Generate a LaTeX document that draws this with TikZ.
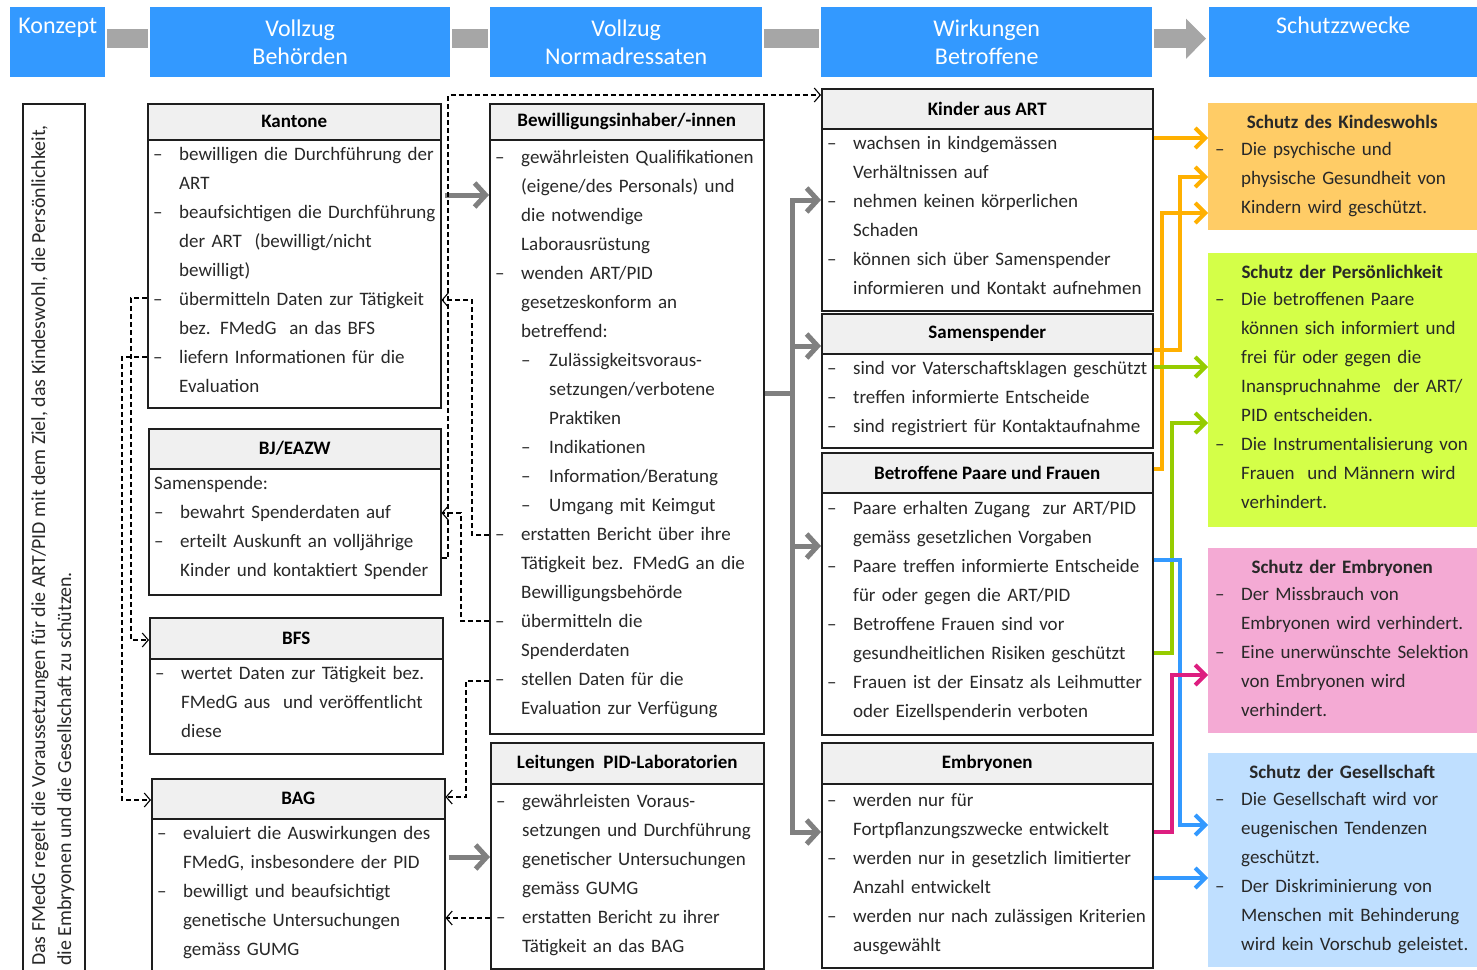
\documentclass[tikz,border=0pt]{standalone}
\usepackage{fontspec}
\setmainfont{Carlito}
\usetikzlibrary{positioning,arrows.meta}

\definecolor{stageblue}{RGB}{51,153,255}
\definecolor{bargray}{RGB}{166,166,166}
\definecolor{flowgray}{RGB}{128,128,128}
\definecolor{headgray}{RGB}{240,240,240}
\definecolor{boxline}{RGB}{30,30,30}
\definecolor{textgray}{RGB}{40,40,40}
\definecolor{kwfill}{RGB}{255,204,102}
\definecolor{kwline}{RGB}{255,176,0}
\definecolor{pkfill}{RGB}{212,255,72}
\definecolor{pkline}{RGB}{150,204,0}
\definecolor{emfill}{RGB}{244,170,212}
\definecolor{emline}{RGB}{221,30,128}
\definecolor{gsfill}{RGB}{191,223,255}
\definecolor{gsline}{RGB}{51,153,255}

\newif\ifboxstart
\newcommand{\bodyfont}{\fontsize{19}{29}\selectfont}
\newcommand{\newpar}{\ifboxstart\boxstartfalse\else\par\fi\noindent\rule{0pt}{14pt}}
\newcommand{\itm}{\newpar\hangindent=26pt\hangafter=1\makebox[26pt][l]{–}}
\newcommand{\sitm}{\newpar\hangindent=54pt\hangafter=1\hspace*{26pt}\makebox[28pt][l]{–}}
\newcommand{\txtline}{\newpar}
\newcommand{\goaltitle}[1]{\newpar\makebox[254pt]{\bfseries #1}\par\vspace{-2pt}}

\tikzset{
  stage/.style    = {anchor=north west, fill=stageblue, text=white, align=center,
                     inner sep=0pt, minimum height=70pt, font=\fontsize{24}{28}\selectfont},
  bar/.style      = {draw=bargray, line width=19pt, shorten <=2pt, shorten >=2pt},
  titlebox/.style = {anchor=north west, draw=boxline, line width=1.5pt, fill=headgray,
                     inner sep=0pt, font=\bfseries\fontsize{19}{23}\selectfont},
  bodybox/.style  = {draw=boxline, line width=1.5pt, fill=white, inner sep=0pt},
  bodytext/.style = {anchor=north west, align=left, inner xsep=6pt, inner ysep=7pt,
                     font=\bodyfont, text=textgray, execute at begin node=\boxstarttrue},
  goalbox/.style  = {anchor=north west, inner sep=0pt, minimum width=269pt},
  goaltext/.style = {bodytext, inner xsep=7pt, inner ysep=11pt, text width=300pt},
  flow/.style     = {draw=flowgray, line width=5pt, -{Straight Barb[length=11pt,width=24pt]}},
  goallink/.style = {line width=4pt, -{Straight Barb[length=10pt,width=20pt]}},
  datalink/.style = {draw=black, line width=1.1pt, dash pattern=on 5pt off 3pt,
                     -{Straight Barb[length=6pt,width=14pt]}}
}

\begin{document}
\begin{tikzpicture}[x=1pt, y=-1pt]
\useasboundingbox (0,0) rectangle (1477,969);
\clip (0,0) rectangle (1477,969);

% Kopfzeile
\node[stage, minimum width=95pt]  (konz)  at (10,7)   {\strut Konzept\\\strut};
\node[stage, minimum width=300pt] (vbeh)  at (150,7)  {Vollzug\\Behörden};
\node[stage, minimum width=272pt] (vnorm) at (490,7)  {Vollzug\\Normadressaten};
\node[stage, minimum width=331pt] (wirk)  at (821,7)  {Wirkungen\\Betroffene};
\node[stage, minimum width=268pt] (zweck) at (1209,7) {\strut Schutzzwecke\\\strut};
\draw[bar] ([yshift=3.5pt]konz.east) -- ([yshift=3.5pt]vbeh.west);
\draw[bar] ([yshift=3.5pt]vbeh.east) -- ([yshift=3.5pt]vnorm.west);
\draw[bar] ([yshift=3.5pt]vnorm.east) -- ([yshift=3.5pt]wirk.west);
\draw[bar, shorten >=3pt, -{Triangle[length=20pt,width=39pt]}]
  ([yshift=3.5pt]wirk.east) -- ([yshift=3.5pt]zweck.west);

% Konzept
\node[bodybox, anchor=north west, minimum width=62pt, minimum height=900pt] (konzB) at (22,103) {};
\node[rotate=90, anchor=north west, align=left, inner sep=0pt, text=textgray,
      font=\fontsize{19.9}{26}\selectfont] (konzT) at (31,966)
  {Das FMedG regelt die Voraussetzungen für die ART/PID mit dem Ziel, das Kindeswohl, die Persönlichkeit,\\
   die Embryonen und die Gesellschaft zu schützen.};

% Vollzug Behoerden
\node[titlebox, minimum width=293pt, minimum height=36pt] (kant) at (147,103) {Kantone};
\node[bodybox, minimum width=293pt, minimum height=268pt, below=-1.5pt of kant] (kantB) {};
\node[bodytext, text width=320pt] (kantT) at (kantB.north west)
  {\itm bewilligen die Durchführung der\newline ART
   \itm beaufsichtigen die Durchführung\newline der ART~ (bewilligt/nicht\newline bewilligt)
   \itm übermitteln Daten zur Tätigkeit\newline bez. FMedG~ an das BFS
   \itm liefern Informationen für die\newline Evaluation\par};

\node[titlebox, minimum width=292pt, minimum height=40pt] (bj) at (148,428) {BJ/EAZW};
\node[bodybox, minimum width=292pt, minimum height=126pt, below=-1.5pt of bj] (bjB) {};
\node[bodytext, text width=320pt] (bjT) at (bjB.north west)
  {\txtline Samenspende:
   \itm bewahrt Spenderdaten auf
   \itm erteilt Auskunft an volljährige\newline Kinder und kontaktiert Spender\par};

\node[titlebox, minimum width=293pt, minimum height=41pt] (bfs) at (149,617) {BFS};
\node[bodybox, minimum width=293pt, minimum height=95pt, below=-1.5pt of bfs] (bfsB) {};
\node[bodytext, text width=320pt] (bfsT) at (bfsB.north west)
  {\itm wertet Daten zur Tätigkeit bez.\newline FMedG aus~ und veröffentlicht\newline diese\par};

\node[titlebox, minimum width=293pt, minimum height=40pt] (bag) at (151,778) {BAG};
\node[bodybox, minimum width=293pt, minimum height=200pt, below=-1.5pt of bag] (bagB) {};
\node[bodytext, text width=320pt] (bagT) at (bagB.north west)
  {\itm evaluiert die Auswirkungen des\newline FMedG, insbesondere der PID
   \itm bewilligt und beaufsichtigt\newline genetische Untersuchungen\newline gemäss GUMG\par};

% Vollzug Normadressaten
\node[titlebox, minimum width=274pt, minimum height=36pt] (bew) at (489,103) {Bewilligungsinhaber/-innen};
\node[bodybox, minimum width=274pt, minimum height=594pt, below=-1.5pt of bew] (bewB) {};
\node[bodytext, text width=300pt, yshift=-3pt] (bewT) at (bewB.north west)
  {\itm gewährleisten Qualifikationen\newline (eigene/des Personals) und\newline die notwendige\newline Laborausrüstung
   \itm wenden ART/PID\newline gesetzeskonform an\newline betreffend:
   \sitm Zulässigkeitsvoraus-\newline setzungen/verbotene\newline Praktiken
   \sitm Indikationen
   \sitm Information/Beratung
   \sitm Umgang mit Keimgut
   \itm erstatten Bericht über ihre\newline Tätigkeit bez. FMedG an die\newline Bewilligungsbehörde
   \itm übermitteln die\newline Spenderdaten
   \itm stellen Daten für die\newline Evaluation zur Verfügung\par};

\node[titlebox, minimum width=273pt, minimum height=41pt] (lei) at (490,742) {Leitungen~ PID-Laboratorien};
\node[bodybox, minimum width=273pt, minimum height=185pt, below=-1.5pt of lei] (leiB) {};
\node[bodytext, text width=300pt, yshift=-3pt] (leiT) at (leiB.north west)
  {\itm gewährleisten Voraus-\newline setzungen und Durchführung\newline genetischer Untersuchungen\newline gemäss GUMG
   \itm erstatten Bericht zu ihrer\newline Tätigkeit an das BAG\par};

% Wirkungen Betroffene
\node[titlebox, minimum width=331pt, minimum height=40pt] (kin) at (821,88) {Kinder aus ART};
\node[bodybox, minimum width=331pt, minimum height=182pt, below=-1.5pt of kin] (kinB) {};
\node[bodytext, text width=360pt] (kinT) at (kinB.north west)
  {\itm wachsen in kindgemässen\newline Verhältnissen auf
   \itm nehmen keinen körperlichen\newline Schaden
   \itm können sich über Samenspender\newline informieren und Kontakt aufnehmen\par};

\node[titlebox, minimum width=331pt, minimum height=40pt] (samH) at (821,313) {Samenspender};
\node[bodybox, minimum width=331pt, minimum height=94pt, below=-1.5pt of samH] (samB) {};
\node[bodytext, text width=360pt] (samT) at (samB.north west)
  {\itm sind vor Vaterschaftsklagen geschützt
   \itm treffen informierte Entscheide
   \itm sind registriert für Kontaktaufnahme\par};

\node[titlebox, minimum width=331pt, minimum height=40pt] (betH) at (821,452) {Betroffene Paare und Frauen};
\node[bodybox, minimum width=331pt, minimum height=242pt, below=-1.5pt of betH] (betB) {};
\node[bodytext, text width=360pt, yshift=-1pt] (betT) at (betB.north west)
  {\itm Paare erhalten Zugang~ zur ART/PID\newline gemäss gesetzlichen Vorgaben
   \itm Paare treffen informierte Entscheide\newline für oder gegen die ART/PID
   \itm Betroffene Frauen sind vor\newline gesundheitlichen Risiken geschützt
   \itm Frauen ist der Einsatz als Leihmutter\newline oder Eizellspenderin verboten\par};

\node[titlebox, minimum width=331pt, minimum height=41pt] (emb) at (821,742) {Embryonen};
\node[bodybox, minimum width=331pt, minimum height=184pt, below=-1.5pt of emb] (embB) {};
\node[bodytext, text width=360pt, yshift=-2pt] (embT) at (embB.north west)
  {\itm werden nur für\newline Fortpflanzungszwecke entwickelt
   \itm werden nur in gesetzlich limitierter\newline Anzahl entwickelt
   \itm werden nur nach zulässigen Kriterien\newline ausgewählt\par};

% Schutzzwecke
\node[goalbox, fill=kwfill, minimum height=127pt] (kwohl) at (1208,103) {};
\node[goaltext] (kwohlT) at (kwohl.north west)
  {\goaltitle{Schutz des Kindeswohls}
   \itm Die psychische und\newline physische Gesundheit von\newline Kindern wird geschützt.\par};

\node[goalbox, fill=pkfill, minimum height=274pt] (pers) at (1208,253) {};
\node[goaltext] (persT) at (pers.north west)
  {\goaltitle{Schutz der Persönlichkeit}
   \itm Die betroffenen Paare\newline können sich informiert und\newline frei für oder gegen die\newline Inanspruchnahme~ der ART/\newline PID entscheiden.
   \itm Die Instrumentalisierung von\newline Frauen~ und Männern wird\newline verhindert.\par};

\node[goalbox, fill=emfill, minimum height=185pt] (embz) at (1208,548) {};
\node[goaltext] (embzT) at (embz.north west)
  {\goaltitle{Schutz der Embryonen}
   \itm Der Missbrauch von\newline Embryonen wird verhindert.
   \itm Eine unerwünschte Selektion\newline von Embryonen wird\newline verhindert.\par};

\node[goalbox, fill=gsfill, minimum height=214pt] (ges) at (1208,753) {};
\node[goaltext] (gesT) at (ges.north west)
  {\goaltitle{Schutz der Gesellschaft}
   \itm Die Gesellschaft wird vor\newline eugenischen Tendenzen\newline geschützt.
   \itm Der Diskriminierung von\newline Menschen mit Behinderung\newline wird kein Vorschub geleistet.\par};

% Vollzugsfluss
\coordinate (hub) at (792,393);
\draw[flow, shorten <=3pt] (kantB.east |- 0,195) -- (bewB.west |- 0,195);
\draw[flow, shorten <=3pt] (bagB.east |- 0,857) -- (leiB.west |- 0,857);
\draw[flow, -] (bewB.east |- hub) -- (hub);
\draw[flow] (hub) -- (792,200) -- (kinB.west |- 0,200);
\draw[flow] (hub) -- (792,832) -- (embB.west |- 0,832);
\draw[flow] (792,346) -- (samH.west |- 0,346);
\draw[flow] (792,546) -- (betB.west |- 0,546);

% Daten und Berichte
\draw[datalink] (kantB.west |- 0,298) -- (131,298) -- (131,640) -- (bfs.west |- 0,640);
\draw[datalink] (kantB.west |- 0,357) -- (122,357) -- (122,800) -- (bag.west |- 0,800);
\draw[datalink] (bjB.east |- 0,558) -- (448,558) -- (448,95) -- (kin.west |- 0,95);
\draw[datalink] (bewB.west |- 0,535) -- (472,535) -- (472,300) -- (kantB.east |- 0,300);
\draw[datalink] (bewB.west |- 0,621) -- (461,621) -- (461,513) -- (bjB.east |- 0,513);
\draw[datalink] (bewB.west |- 0,681) -- (466,681) -- (466,797) -- (bag.east |- 0,797);
\draw[datalink] (leiB.west |- 0,918) -- (bagB.east |- 0,918);

% Wirkung auf Schutzzwecke
\draw[goallink, draw=kwline] (kinB.east |- 0,138) -- (kwohl.west |- 0,138);
\draw[goallink, draw=kwline] (samH.east |- 0,350) -- (1180,350) -- (1180,177) -- (kwohl.west |- 0,177);
\draw[goallink, draw=kwline] (betH.east |- 0,469) -- (1162,469) -- (1162,213) -- (kwohl.west |- 0,213);
\draw[goallink, draw=pkline] (samB.east |- 0,367) -- (pers.west |- 0,367);
\draw[goallink, draw=pkline] (betB.east |- 0,653) -- (1172,653) -- (1172,423) -- (pers.west |- 0,423);
\draw[goallink, draw=gsline] (betB.east |- 0,560) -- (1180,560) -- (1180,825) -- (ges.west |- 0,825);
\draw[goallink, draw=gsline] (embB.east |- 0,878) -- (ges.west |- 0,878);
\draw[goallink, draw=emline] (embB.east |- 0,832) -- (1172,832) -- (1172,675) -- (embz.west |- 0,675);
\end{tikzpicture}
\end{document}
